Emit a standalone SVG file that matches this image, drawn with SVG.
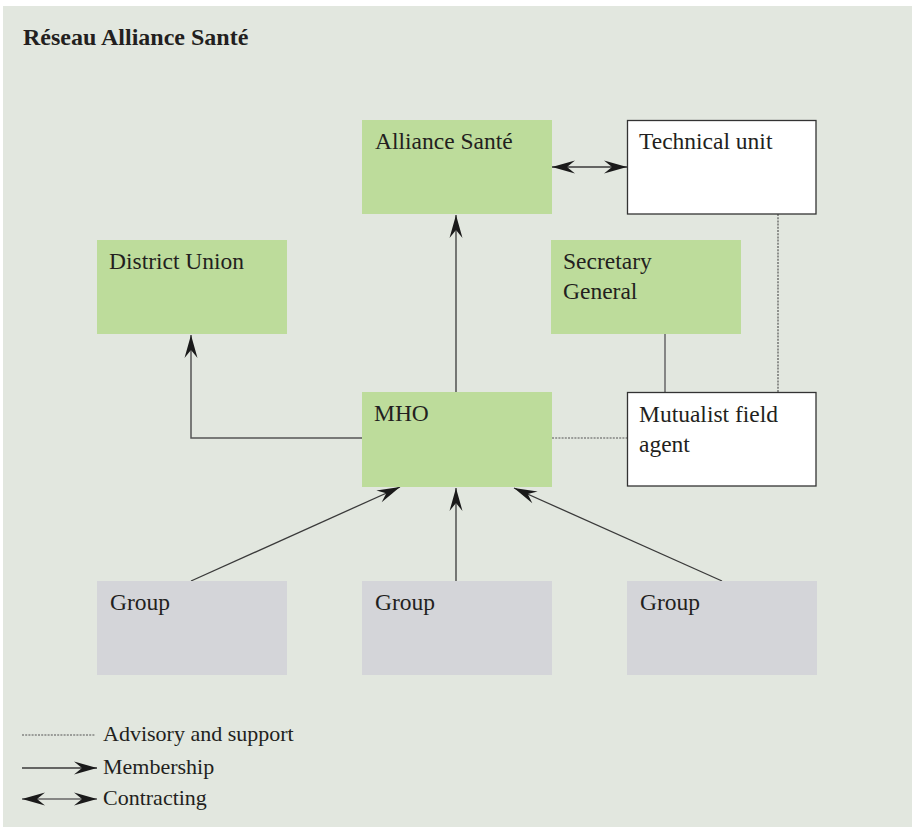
<svg xmlns="http://www.w3.org/2000/svg" width="912" height="827" viewBox="0 0 912 827">
<defs>
<style>
.t{font-family:"Liberation Serif","DejaVu Serif",serif;font-size:23.5px;fill:#231f20}
.lg{font-family:"Liberation Serif","DejaVu Serif",serif;font-size:22px;fill:#231f20}
.g{fill:#bddc9b}
.gr{fill:#d4d5d9}
.w{fill:#ffffff;stroke:#333;stroke-width:1.3}
.ln{stroke:#3a3a3a;stroke-width:1.3;fill:none}
.dot{stroke:#555;stroke-width:1.2;stroke-dasharray:2 1.2;fill:none}
</style>
<marker id="ah" viewBox="-24 -7 25 14" refX="0" refY="0" markerWidth="25" markerHeight="14" markerUnits="userSpaceOnUse" orient="auto-start-reverse">
<path d="M0,0 L-23,-6.5 L-15,0 L-23,6.5 Z" fill="#1a1a1a"/>
</marker>
</defs>
<rect x="0" y="0" width="912" height="827" fill="#ffffff"/>
<rect x="3" y="6" width="909" height="821" fill="#e2e7df"/>
<text x="23" y="45" style="font-family:'Liberation Serif','DejaVu Serif',serif;font-size:24px;font-weight:bold;fill:#231f20">Réseau Alliance Santé</text>

<g id="connectors">
<line class="ln" x1="552" y1="167" x2="627" y2="167" marker-start="url(#ah)" marker-end="url(#ah)"/>
<line class="dot" x1="778" y1="214" x2="778" y2="392"/>
<line x1="665" y1="334" x2="665" y2="392" stroke="#6e6e6e" stroke-width="1.6"/>
<line class="dot" x1="552" y1="438" x2="627" y2="438"/>
<polyline points="362,438 191,438 191,335" stroke="#555" stroke-width="1.5" fill="none" marker-end="url(#ah)"/>
<line class="ln" x1="456" y1="392" x2="456" y2="215" marker-end="url(#ah)"/>
<line class="ln" x1="191" y1="581" x2="400" y2="487" marker-end="url(#ah)"/>
<line class="ln" x1="456" y1="581" x2="456" y2="488" marker-end="url(#ah)"/>
<line class="ln" x1="722" y1="581" x2="514" y2="488" marker-end="url(#ah)"/>
</g>

<g id="alliance-sante"><rect class="g" x="362" y="120" width="190" height="94"/><text class="t" x="375" y="149">Alliance Santé</text></g>
<g id="technical-unit"><rect class="w" x="627.5" y="120.5" width="188.5" height="93.5"/><text class="t" x="639" y="149">Technical unit</text></g>
<g id="district-union"><rect class="g" x="97" y="240" width="190" height="94"/><text class="t" x="109" y="269">District Union</text></g>
<g id="secretary-general"><rect class="g" x="551" y="240" width="190" height="94"/><text class="t" x="563" y="269">Secretary</text><text class="t" x="563" y="299">General</text></g>
<g id="mho"><rect class="g" x="362" y="392" width="190" height="95"/><text class="t" x="374" y="421">MHO</text></g>
<g id="field-agent"><rect class="w" x="627.5" y="392.5" width="188.5" height="93.5"/><text class="t" x="639" y="422">Mutualist field</text><text class="t" x="639" y="452">agent</text></g>
<g id="group1"><rect class="gr" x="97" y="581" width="190" height="94"/><text class="t" x="110" y="610">Group</text></g>
<g id="group2"><rect class="gr" x="362" y="581" width="190" height="94"/><text class="t" x="375" y="610">Group</text></g>
<g id="group3"><rect class="gr" x="627" y="581" width="190" height="94"/><text class="t" x="640" y="610">Group</text></g>

<g id="legend">
<line class="dot" x1="22" y1="735" x2="95" y2="735" stroke-width="1"/>
<text class="lg" x="103" y="741">Advisory and support</text>
<line class="ln" x1="22" y1="768" x2="97" y2="768" marker-end="url(#ah)"/>
<text class="lg" x="103" y="774">Membership</text>
<line x1="22" y1="799" x2="97" y2="799" stroke="#666" stroke-width="1.6" marker-start="url(#ah)" marker-end="url(#ah)"/>
<text class="lg" x="103" y="805">Contracting</text>
</g>
</svg>
